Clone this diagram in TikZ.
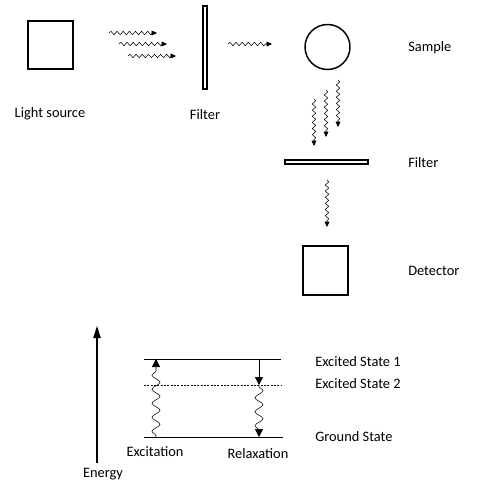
\documentclass[tikz,border=0pt]{standalone}
\usepackage{fontspec}
\setmainfont{Carlito}
\usetikzlibrary{arrows.meta,decorations.pathmorphing}

\tikzset{
  photon/.style={decorate,decoration={snake,segment length=4.6pt,amplitude=1.3pt,post length=3pt},-{Triangle[length=4pt,width=3.6pt]}},
  bigphoton/.style={decorate,decoration={snake,segment length=10.5pt,amplitude=3pt,pre length=1pt,post length=5pt},-{Triangle[length=6pt,width=6pt]}},
  label/.style={inner sep=0.75pt,font=\fontsize{10.8}{12}\selectfont},
}

\begin{document}
\begin{tikzpicture}[x=0.75pt,y=0.75pt,yscale=-1,xscale=1]
    \useasboundingbox (0,0) rectangle (492,498);

    %Shape: Rectangle (light source)
    \draw [line width=1.1pt]  (28,21) -- (73,21) -- (73,69) -- (28,69) -- cycle ;
    %Shape: Rectangle (filter 1)
    \draw [line width=0.8pt]  (203,6) -- (207,6) -- (207,89) -- (203,89) -- cycle ;
    %Shape: Circle (sample)
    \draw [line width=1.1pt]  (327.5,47) circle [radius=22.5] ;
    %Shape: Rectangle (filter 2)
    \draw [line width=0.8pt]  (285,160) -- (368,160) -- (368,164) -- (285,164) -- cycle ;
    %Shape: Rectangle (detector)
    \draw [line width=1.1pt]  (303,246) -- (348,246) -- (348,295) -- (303,295) -- cycle ;

    %Wavy Lines (light)
    \draw [photon]  (109,33) -- (157,33) ;
    \draw [photon]  (119,44) -- (167,44) ;
    \draw [photon]  (128,56) -- (176,56) ;
    \draw [photon]  (228,44) -- (272,44) ;
    %Wavy Lines (emission)
    \draw [photon]  (338,80) -- (338,127) ;
    \draw [photon]  (326,90) -- (326,137) ;
    \draw [photon]  (314,99) -- (314,146) ;
    \draw [photon]  (327,180) -- (327,227) ;

    %Straight Lines (energy axis)
    \draw [line width=0.8pt,-{Triangle[length=9pt,width=5.5pt]}]  (97,463) -- (97,326) ;
    %Straight Lines (levels)
    \coordinate (es1L) at (144,359) ; \coordinate (es1R) at (281,359) ;
    \coordinate (es2L) at (144,385) ; \coordinate (es2R) at (281,385) ;
    \coordinate (gsL) at (144,437) ;  \coordinate (gsR) at (283,437) ;
    \draw    (es1L) -- (es1R) ;
    \draw [dash pattern=on 1.5pt off 1pt]    (es2L) -- (es2R) ;
    \draw    (gsL) -- (gsR) ;

    %Wavy Lines (transitions)
    \draw [bigphoton]  (156,437) -- (156,359) ;
    \draw [-{Triangle[length=6pt,width=6pt]}]  (259,359) -- (259,385) ;
    \draw [bigphoton]  (259,385) -- (259,437) ;

    % Text Node
    \draw (50,113.5) node [label] (lsrc) {Light source};
    % Text Node
    \draw (205,114.5) node [label] (flt1) {Filter};
    % Text Node
    \draw (407,48) node [label,anchor=west] (smp) {Sample};
    % Text Node
    \draw (407,163) node [label,anchor=west] (flt2) {Filter};
    % Text Node
    \draw (407,271) node [label,anchor=west] (det) {Detector};
    % Text Node
    \draw (103,474) node [label] (enr) {Energy};
    % Text Node
    \draw (155,452) node [label] (exc) {Excitation};
    % Text Node
    \draw (258,454) node [label] (rlx) {Relaxation};
    % Text Node
    \draw (314,362) node [label,anchor=west] (es1) {Excited State 1};
    % Text Node
    \draw (314,384) node [label,anchor=west] (es2) {Excited State 2};
    % Text Node
    \draw (314,437) node [label,anchor=west] (gs) {Ground State};

\end{tikzpicture}
\end{document}
